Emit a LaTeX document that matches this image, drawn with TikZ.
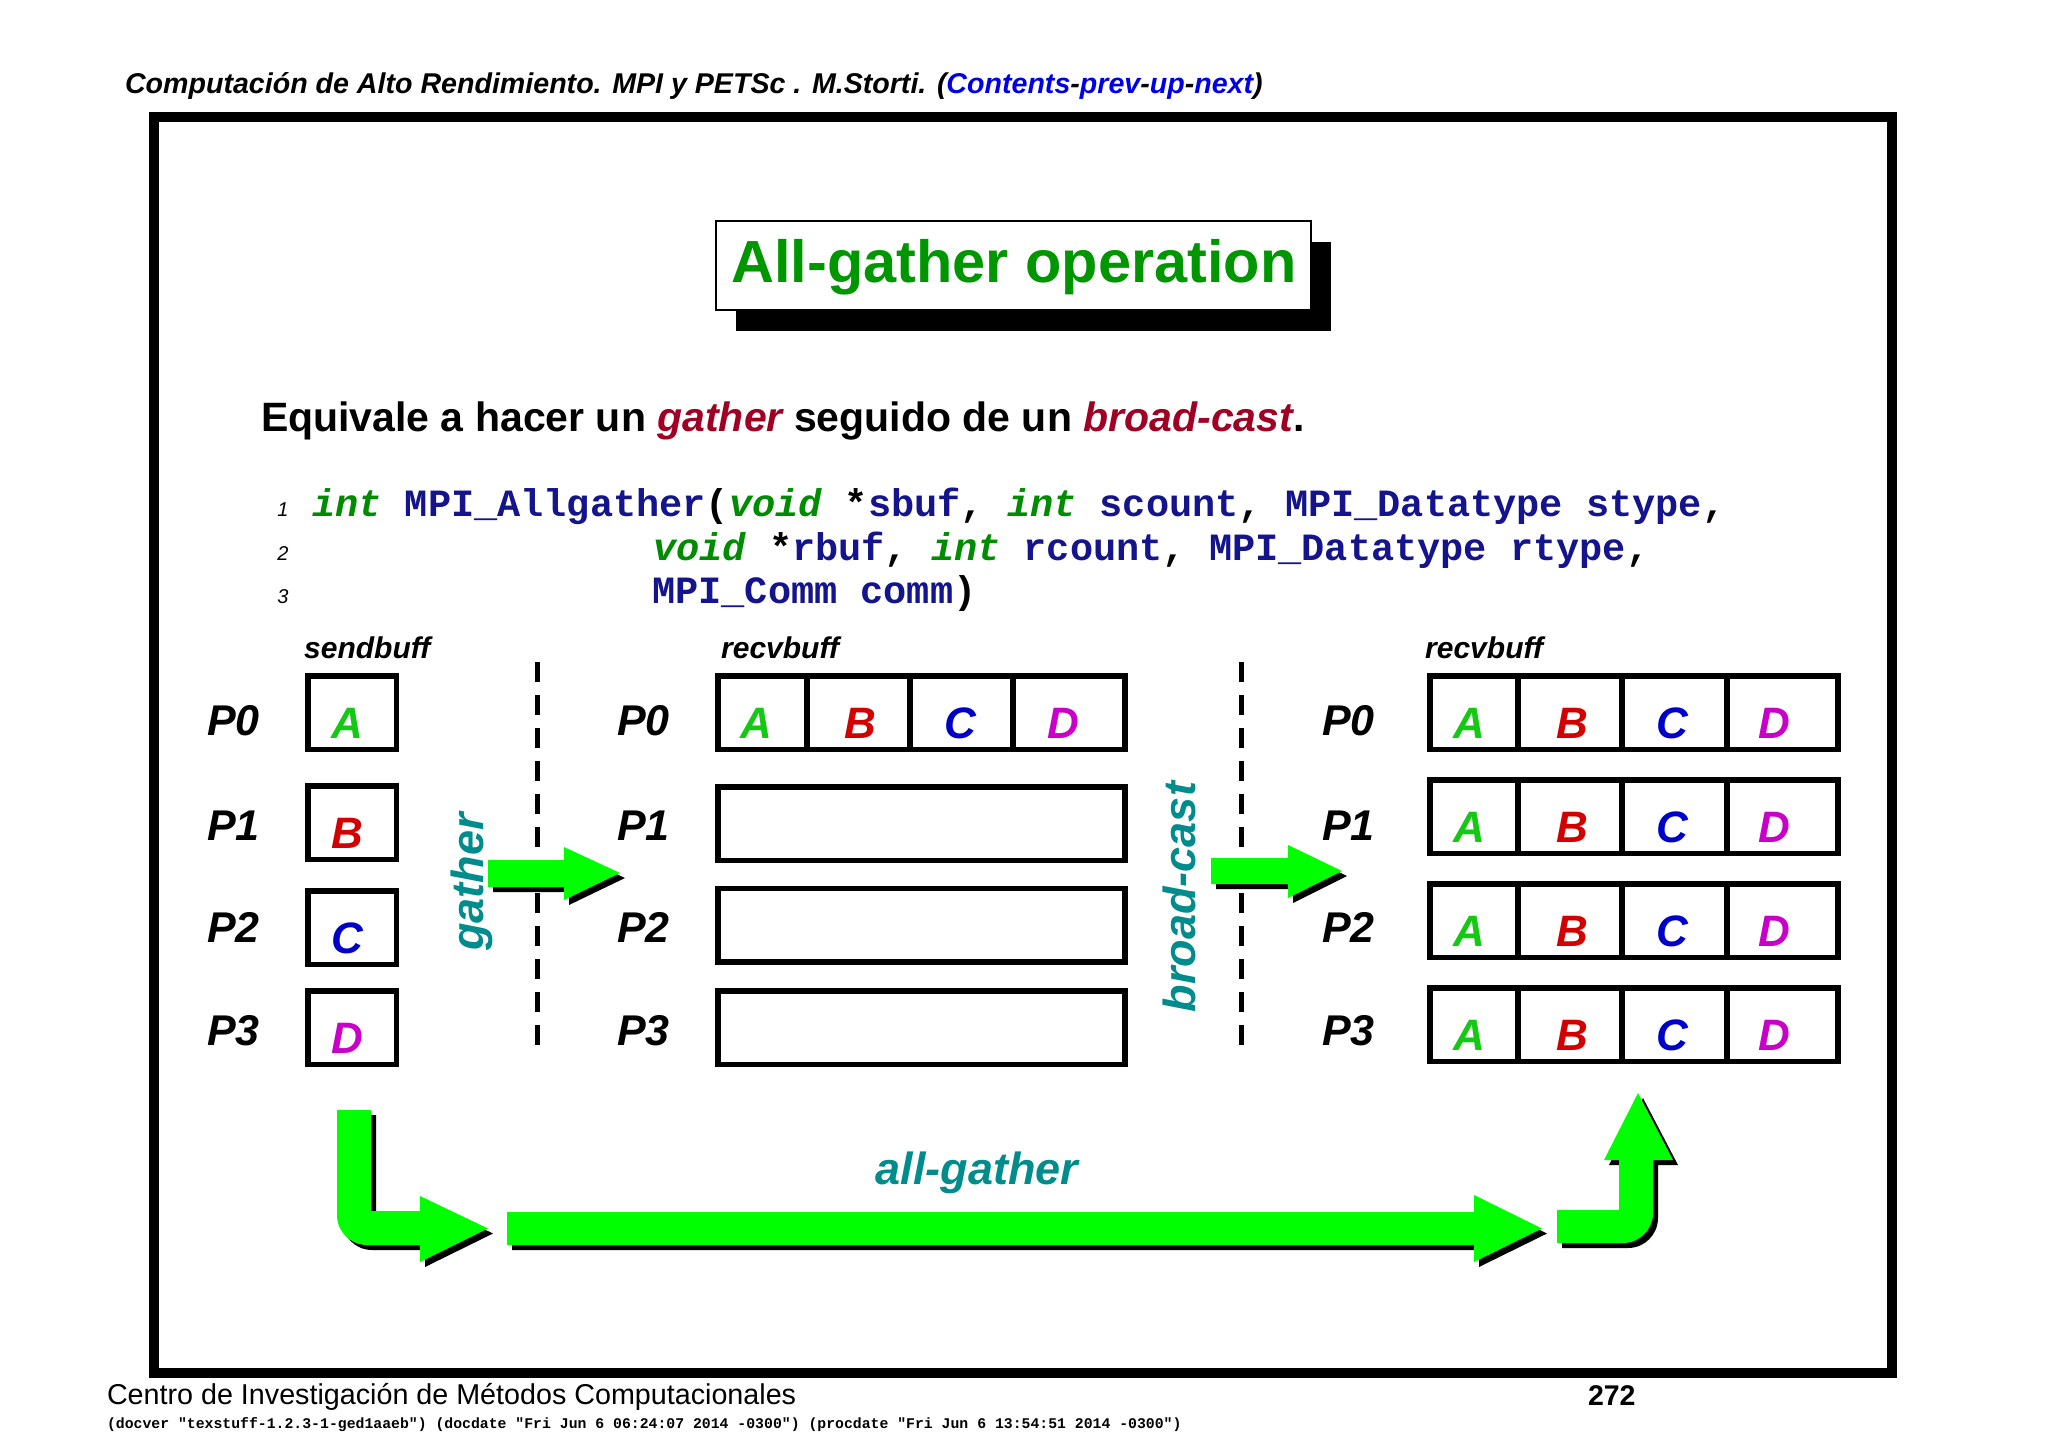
\documentclass[tikz,border=0pt]{standalone}
\usepackage{fontspec}
\newfontfamily\hv{Liberation Sans}
\newfontfamily\mono{Liberation Mono}
\newcommand\fsz[1]{\fontsize{#1}{#1}\selectfont}
\definecolor{tgreen}{RGB}{0,150,0}
\definecolor{dred}{RGB}{160,0,35}
\definecolor{kgreen}{RGB}{0,140,0}
\definecolor{cnavy}{RGB}{20,20,140}
\definecolor{tealc}{RGB}{0,140,140}
\definecolor{agreen}{RGB}{0,255,0}
\definecolor{lA}{RGB}{20,200,20}
\definecolor{lB}{RGB}{210,0,0}
\definecolor{lC}{RGB}{0,0,200}
\definecolor{lD}{RGB}{200,0,200}
\definecolor{lnk}{RGB}{0,0,230}
\newcommand\kw[1]{{\color{kgreen}\itshape #1}}
\newcommand\idf[1]{{\color{cnavy}#1}}
\newcommand\lk[1]{{\color{lnk}#1}}
\begin{document}
\begin{tikzpicture}[x=1pt,y=-1pt,
  txt/.style={inner sep=0pt, outer sep=0pt, anchor=base west},
  buf/.style={draw, line width=5.5pt, inner sep=0pt, outer sep=0pt, minimum height=73.5pt},
  letter/.style={inner sep=0pt, anchor=base, font=\hv\bfseries\itshape\fsz{44}},
  plab/.style={inner sep=0pt, anchor=base west, font=\hv\bfseries\itshape\fsz{43}},
  blab/.style={inner sep=0pt, anchor=base west, font=\hv\bfseries\itshape\fsz{30}},
  opl/.style={inner sep=0pt, font=\hv\bfseries\itshape\fsz{45}, text=tealc},
  code/.style={inner sep=0pt, anchor=base west, font=\mono\bfseries\fsz{38.6}},
  lnum/.style={inner sep=0pt, anchor=base, font=\hv\itshape\fsz{20}},
  dline/.style={line width=5pt, dash pattern=on 20pt off 13pt},
  shadowfill/.style={fill=black, shift={(5,5)}},
  greenfill/.style={fill=agreen}
]
\useasboundingbox (0,0) rectangle (2048,1448);
\fill[white] (0,0) rectangle (2048,1448);

% header
\node[txt, font=\hv\bfseries\itshape\fsz{28.6}] (hdr) at (125,93)
  {Computación de Alto Rendimiento. MPI y PETSc . M.Storti. (\lk{Contents}-\lk{prev}-\lk{up}-\lk{next})};

% frame
\draw[line width=10pt] (154,116.5) rectangle (1892,1373);

% title
\fill[black] (736,242) rectangle (1331,331);
\node[draw, line width=1.8pt, fill=white, minimum width=595pt, minimum height=89pt, inner sep=0pt] (titlebox) at (1013.5,265.5) {};
\node[inner sep=0pt, anchor=base, font=\hv\bfseries\fsz{59.5}, text=tgreen] (title) at (1014,282) {All-gather operation};

% sentence
\node[txt, font=\hv\bfseries\fsz{41}] (sent) at (261,431)
  {Equivale a hacer un {\color{dred}\itshape gather} seguido de un {\color{dred}\itshape broad-cast}.};

% code
\node[lnum] (n1) at (283,516) {1};
\node[lnum] (n2) at (283,560) {2};
\node[lnum] (n3) at (283,603) {3};
\node[code] (c1) at (312,516) {\kw{int} \idf{MPI\_Allgather}(\kw{void} *\idf{sbuf}, \kw{int} \idf{scount}, \idf{MPI\_Datatype stype},};
\node[code] (c2) at (653,560) {\kw{void} *\idf{rbuf}, \kw{int} \idf{rcount}, \idf{MPI\_Datatype rtype},};
\node[code] (c3) at (652,603) {\idf{MPI\_Comm comm})};

% buffer labels
\node[blab] (lsend) at (304,658) {sendbuff};
\node[blab] (lrecv1) at (721,658) {recvbuff};
\node[blab] (lrecv2) at (1425,658) {recvbuff};

% dashed separators
\coordinate (d1t) at (537,662); \coordinate (d1b) at (537,1050);
\coordinate (d2t) at (1241,662); \coordinate (d2b) at (1241,1050);
\draw[dline] (d1t) -- (d1b);
\draw[dline] (d2t) -- (d2b);

% process labels
\foreach \x/\c in {207/a,617/b,1322/c}{
  \node[plab] (P0\c) at (\x,735) {P0};
  \node[plab] (P1\c) at (\x,840) {P1};
  \node[plab] (P2\c) at (\x,942) {P2};
  \node[plab] (P3\c) at (\x,1045) {P3};
}

% send buffers
\node[buf, minimum width=88.5pt] (s0) at (352,712.5) {};
\node[buf, minimum width=88.5pt] (s1) at (352,822.5) {};
\node[buf, minimum width=88.5pt] (s2) at (352,927.5) {};
\node[buf, minimum width=88.5pt] (s3) at (352,1027.5) {};
\node[letter, text=lA] (sA) at (347,738.5) {A};
\node[letter, text=lB] (sB) at (347,848.5) {B};
\node[letter, text=lC] (sC) at (347,953.5) {C};
\node[letter, text=lD] (sD) at (347,1053.5) {D};

% middle recv buffers
\node[buf, minimum width=89pt] (m0a) at (762.5,712.5) {};
\node[buf, minimum width=103pt] (m0b) at (858.5,712.5) {};
\node[buf, minimum width=103pt] (m0c) at (961.5,712.5) {};
\node[buf, minimum width=112pt] (m0d) at (1069,712.5) {};
\node[letter, text=lA] at (756,738.5) {A};
\node[letter, text=lB] at (860,738.5) {B};
\node[letter, text=lC] at (960,738.5) {C};
\node[letter, text=lD] at (1063,738.5) {D};
\node[buf, minimum width=407pt] (m1) at (921.5,823.5) {};
\node[buf, minimum width=407pt] (m2) at (921.5,925) {};
\node[buf, minimum width=407pt] (m3) at (921.5,1027.5) {};

% right recv buffers
\foreach \r/\y in {0/712.5,1/816.5,2/920.5,3/1024.5}{
  \node[buf, minimum width=88pt] (r\r a) at (1474,\y) {};
  \node[buf, minimum width=104pt] (r\r b) at (1570,\y) {};
  \node[buf, minimum width=105pt] (r\r c) at (1674.5,\y) {};
  \node[buf, minimum width=111pt] (r\r d) at (1782.5,\y) {};
  \node[letter, text=lA] at (1469,\y+26) {A};
  \node[letter, text=lB] at (1572,\y+26) {B};
  \node[letter, text=lC] at (1672,\y+26) {C};
  \node[letter, text=lD] at (1774,\y+26) {D};
}

% gather arrow
\def\gatherpath{(488,860) -- (564,860) -- (564,847) -- (620,873) -- (564,900) -- (564,887) -- (488,887) -- cycle}
\fill[shadowfill] \gatherpath;
\fill[greenfill] \gatherpath;
\node[opl, rotate=90] (gl) at (472,882) {gather};

% broad-cast arrow
\def\bcastpath{(1211,858) -- (1288,858) -- (1288,845) -- (1342,871) -- (1288,898) -- (1288,884) -- (1211,884) -- cycle}
\fill[shadowfill] \bcastpath;
\fill[greenfill] \bcastpath;
\node[opl, rotate=90] (bl) at (1179,897) {broad-cast};

% bottom all-gather arrows
\def\lpath{(337,1110) -- (371,1110) -- (371,1211) -- (420,1211) -- (420,1196) -- (488,1228.5) -- (420,1262) -- (420,1245) -- (367,1245) .. controls (350.4,1245) and (337,1231.6) .. (337,1215) -- cycle}
\fill[shadowfill] \lpath;
\fill[greenfill] \lpath;
\def\longpath{(507,1212) -- (1474,1212) -- (1474,1195) -- (1542,1228.5) -- (1474,1262) -- (1474,1245) -- (507,1245) -- cycle}
\fill[shadowfill] \longpath;
\fill[greenfill] \longpath;
\def\upath{(1557,1210) -- (1619,1210) -- (1619,1160) -- (1604,1160) -- (1638,1093) -- (1673,1160) -- (1653,1160) -- (1653,1213) .. controls (1653,1229.6) and (1639.6,1243) .. (1623,1243) -- (1557,1243) -- cycle}
\fill[shadowfill] \upath;
\fill[greenfill] \upath;
\node[opl, anchor=base] (al) at (977,1184) {all-gather};

% footer
\node[txt, font=\hv\fsz{28.7}] (foot) at (107,1404) {Centro de Investigación de Métodos Computacionales};
\node[txt, font=\hv\bfseries\fsz{28.5}] (page) at (1588,1405) {272};
\node[txt, font=\mono\bfseries\fsz{14.8}] (docv) at (107,1428)
  {(docver "texstuff-1.2.3-1-ged1aaeb") (docdate "Fri Jun 6 06:24:07 2014 -0300") (procdate "Fri Jun 6 13:54:51 2014 -0300")};
\end{tikzpicture}
\end{document}
